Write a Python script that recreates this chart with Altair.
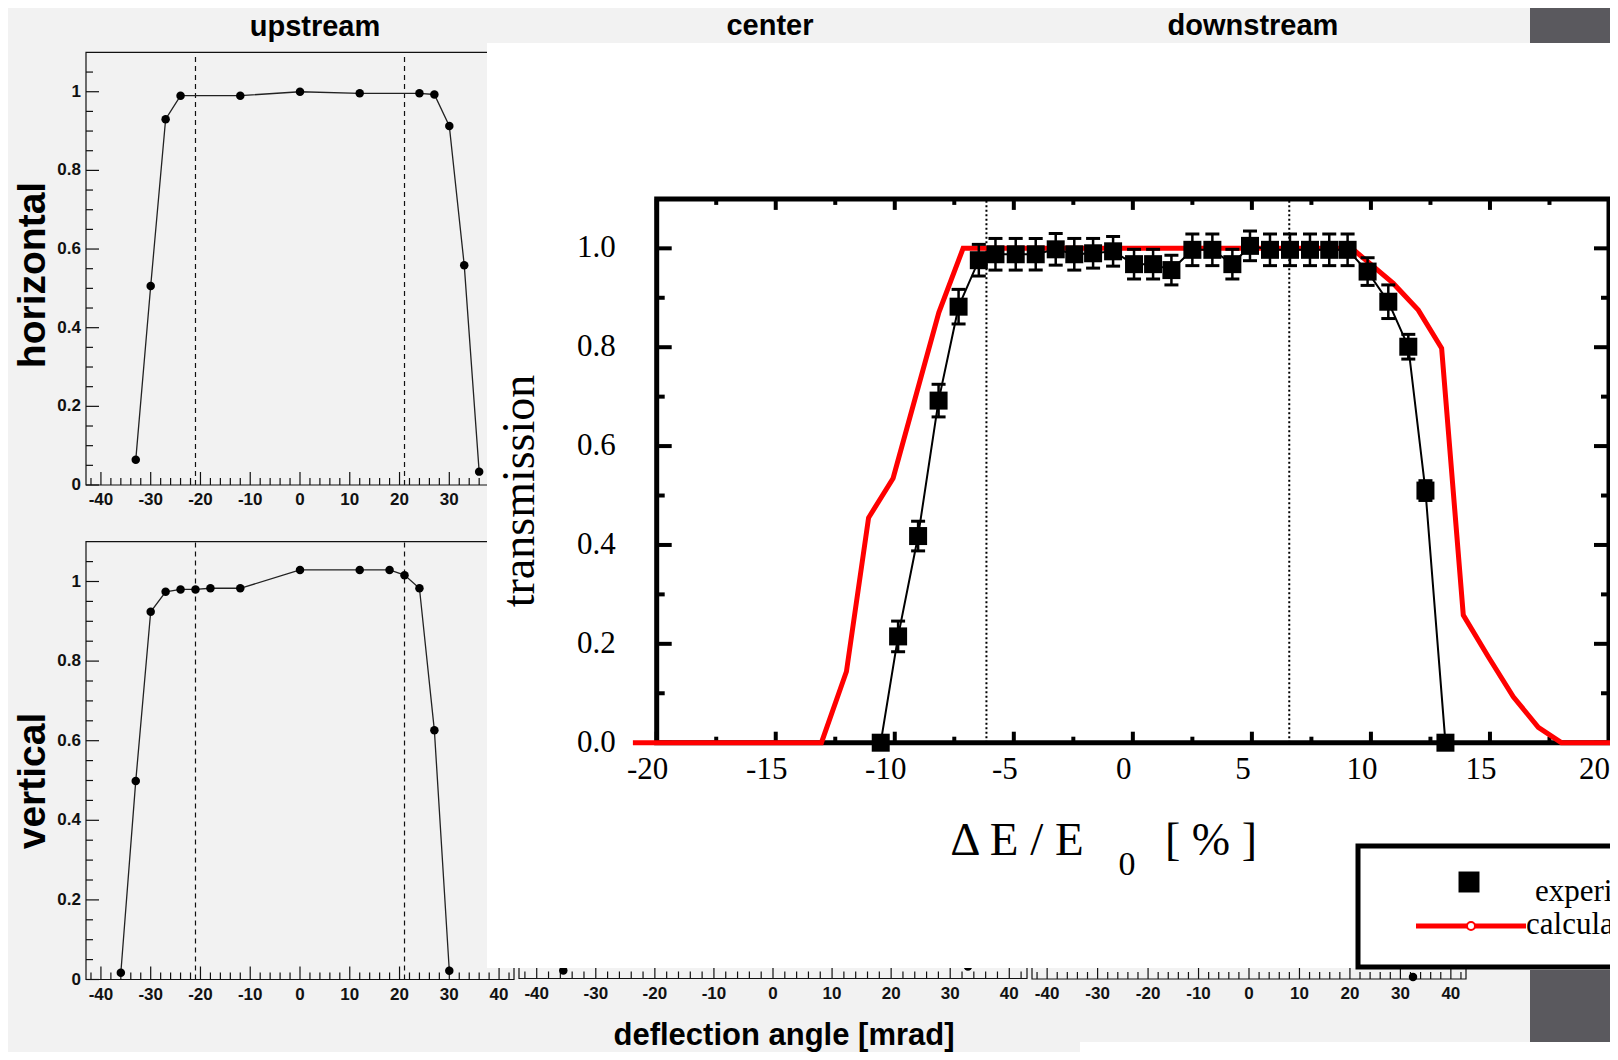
import altair as alt
import pandas as pd

# ---------------- data ----------------
# background ROOT panels: deflection angle [mrad] vs transmission
UP_H_X = [-33, -30, -27, -24, -12, 0, 12, 24, 27, 30, 33, 36]
UP_H_Y = [0.064, 0.506, 0.930, 0.990, 0.990, 1.000, 0.996, 0.996, 0.993, 0.913, 0.559, 0.034]
UP_V_X = [-36, -33, -30, -27, -24, -21, -18, -12, 0, 12, 18, 21, 24, 27, 30]
UP_V_Y = [0.017, 0.499, 0.924, 0.974, 0.980, 0.980, 0.983, 0.983, 1.029, 1.029, 1.029, 1.016, 0.983, 0.626, 0.022]
CENTER_V_X = [-35.5, 33.0]
CENTER_V_Y = [0.02, 0.03]
DOWN_V_X = [32.5]
DOWN_V_Y = [0.005]
UP_EDGES = [-21, 21]

ROOT_X_MAJOR = [-40, -30, -20, -10, 0, 10, 20, 30, 40]
ROOT_X_LABELS = ["-40", "-30", "-20", "-10", "0", "10", "20", "30", "40"]
ROOT_X_MINOR = [-42, -38, -36, -34, -32, -28, -26, -24, -22, -18, -16, -14, -12, -8, -6, -4, -2,
                2, 4, 6, 8, 12, 14, 16, 18, 22, 24, 26, 28, 32, 34, 36, 38, 42]
ROOT_Y_MAJOR = [0, 0.2, 0.4, 0.6, 0.8, 1.0]
ROOT_Y_LABELS = ["0", "0.2", "0.4", "0.6", "0.8", "1"]
ROOT_Y_MINOR = [0.05, 0.1, 0.15, 0.25, 0.3, 0.35, 0.45, 0.5, 0.55, 0.65, 0.7, 0.75, 0.85, 0.9, 0.95, 1.05]

# main figure: transmission vs dE/E0 [%]
EXP_X = [-10.59, -9.86, -9.02, -8.16, -7.32, -6.47, -5.77, -4.92, -4.08, -3.24,
         -2.46, -1.67, -0.83, 0.05, 0.85, 1.62, 2.50, 3.34, 4.18, 4.92,
         5.76, 6.60, 7.44, 8.25, 9.02, 9.86, 10.73, 11.57, 12.29, 13.13]
EXP_Y = [0.0, 0.215, 0.418, 0.692, 0.882, 0.976, 0.988, 0.988, 0.988, 0.998,
         0.988, 0.990, 0.994, 0.968, 0.968, 0.956, 0.997, 0.997, 0.968, 1.005,
         0.997, 0.997, 0.997, 0.997, 0.997, 0.953, 0.892, 0.801, 0.510, 0.0]
EXP_ERR = [0.0, 0.031, 0.030, 0.033, 0.035, 0.032, 0.032, 0.032, 0.032, 0.032,
           0.032, 0.030, 0.030, 0.030, 0.030, 0.030, 0.032, 0.032, 0.030, 0.030,
           0.032, 0.032, 0.032, 0.032, 0.032, 0.028, 0.034, 0.025, 0.020, 0.0]
CALC_X = [-21.0, -13.08, -12.03, -11.10, -10.07, -8.15, -7.13, 9.20, 10.94, 11.99,
          12.97, 13.88, 14.93, 15.98, 17.03, 18.00, 21.50]
CALC_Y = [0.0, 0.0, 0.144, 0.455, 0.535, 0.870, 1.0, 1.0, 0.929, 0.875,
          0.798, 0.258, 0.174, 0.093, 0.031, 0.0, 0.0]
SLIT_EDGES = [-6.15, 6.57]

MAIN_X_MAJOR = [-20, -15, -10, -5, 0, 5, 10, 15]
MAIN_X_LABELS = ["-20", "-15", "-10", "-5", "0", "5", "10", "15"]
MAIN_X_LAST = [20]
MAIN_X_LAST_LABEL = ["20"]
MAIN_X_MINOR = [-17.5, -12.5, -7.5, -2.5, 2.5, 7.5, 12.5, 17.5]
MAIN_Y_MAJOR = [0.0, 0.2, 0.4, 0.6, 0.8, 1.0]
MAIN_Y_LABELS = ["0.0", "0.2", "0.4", "0.6", "0.8", "1.0"]
MAIN_Y_MINOR = [0.1, 0.3, 0.5, 0.7, 0.9]

# ---------------- layout ----------------
OFF = 8.0  # page margin


def pg(a):
    return a - OFF


# domain x, pixel range x (page coords), domain y, pixel range y
GEOM = {
    "TL": ([-43, 43], [86, 514], [0, 1.1], [485, 52.4]),
    "BL": ([-43, 43], [86, 514], [0, 1.1], [979.5, 541.7]),
    "CB": ([-43, 43], [519, 1027], [0, 1.1], [978.5, 540.7]),
    "DB": ([-43, 43], [1032, 1466], [0, 1.1], [979, 541]),
    "M": ([-20, 20], [656.7, 1609], [0, 1.1], [742.7, 198.9]),
}


def xscale(p):
    d, r, _, _ = GEOM[p]
    return alt.Scale(domain=d, range=[pg(r[0]), pg(r[1])], nice=False, zero=False)


def yscale(p):
    _, _, d, r = GEOM[p]
    return alt.Scale(domain=d, range=[pg(r[0]), pg(r[1])], nice=False, zero=False)


def X(p, f=None, d=None):
    if f is not None:
        return alt.X(f, type="quantitative", scale=xscale(p), axis=None)
    return alt.XDatum(d, type="quantitative", scale=xscale(p), axis=None)


def Y(p, f=None, d=None):
    if f is not None:
        return alt.Y(f, type="quantitative", scale=yscale(p), axis=None)
    return alt.YDatum(d, type="quantitative", scale=yscale(p), axis=None)


ONE = pd.DataFrame({"k": [0]})
SANS = "Liberation Sans"
SERIF = "Liberation Serif"
INK = "#111111"
BG = "#f2f2f2"
DARK = "#5a595e"

layers = []


def root_axes(p, ylab=True):
    xd, _, yd, _ = GEOM[p]
    L = [alt.Chart(ONE).mark_rect(fillOpacity=0, stroke=INK, strokeWidth=1.2).encode(
        x=X(p, d=xd[0]), x2=alt.X2Datum(xd[1]), y=Y(p, d=yd[0]), y2=alt.Y2Datum(yd[1]))]
    for vals, ln in ((ROOT_X_MAJOR, 13), (ROOT_X_MINOR, 7)):
        L.append(alt.Chart(pd.DataFrame({"v": vals})).mark_tick(
            orient="vertical", size=ln, thickness=1.2, yOffset=-ln / 2, color=INK, opacity=1
        ).encode(x=X(p, "v"), y=Y(p, d=0)))
    L.append(alt.Chart(pd.DataFrame({"v": ROOT_X_MAJOR, "t": ROOT_X_LABELS})).mark_text(
        dy=15, fontSize=17, font=SANS, fontWeight="bold", color=INK
    ).encode(x=X(p, "v"), y=Y(p, d=0), text="t:N"))
    if ylab:
        for vals, ln in ((ROOT_Y_MAJOR, 13), (ROOT_Y_MINOR, 7)):
            L.append(alt.Chart(pd.DataFrame({"v": vals})).mark_tick(
                orient="horizontal", size=ln, thickness=1.2, xOffset=ln / 2, color=INK, opacity=1
            ).encode(x=X(p, d=xd[0]), y=Y(p, "v")))
        L.append(alt.Chart(pd.DataFrame({"v": ROOT_Y_MAJOR, "t": ROOT_Y_LABELS})).mark_text(
            align="right", dx=-5, fontSize=17, font=SANS, fontWeight="bold", color=INK
        ).encode(x=X(p, d=xd[0]), y=Y(p, "v"), text="t:N"))
        L.append(alt.Chart(pd.DataFrame({"v": UP_EDGES})).mark_rule(
            strokeDash=[5, 4], strokeWidth=1.2, color=INK
        ).encode(x=X(p, "v"), y=Y(p, d=0), y2=alt.Y2Datum(1.1)))
    return L


def root_series(p, xv, yv, line=True):
    d = pd.DataFrame({"x": xv, "y": yv})
    out = []
    if line:
        out.append(alt.Chart(d).mark_line(color="#222222", strokeWidth=1.3).encode(
            x=X(p, "x"), y=Y(p, "y")))
    out.append(alt.Chart(d).mark_circle(size=72, color="#000000", opacity=1).encode(
        x=X(p, "x"), y=Y(p, "y")))
    return out


layers += root_axes("TL") + root_series("TL", UP_H_X, UP_H_Y)
layers += root_axes("BL") + root_series("BL", UP_V_X, UP_V_Y)
layers += root_axes("CB", ylab=False) + root_series("CB", CENTER_V_X, CENTER_V_Y, line=False)
layers += root_axes("DB", ylab=False) + root_series("DB", DOWN_V_X, DOWN_V_Y, line=False)


def block(x0, x1, y0, y1, color):
    return alt.Chart(ONE).mark_rect(color=color, opacity=1).encode(
        x=alt.value(pg(x0)), x2=alt.value(pg(x1)), y=alt.value(pg(y0)), y2=alt.value(pg(y1)))


layers += [
    block(487, 1630, 43, 968, "#ffffff"),
    block(1530, 1630, 0, 43, DARK),
    block(1530, 1630, 970, 1042, DARK),
    block(1080, 1630, 1042, 1070, "#ffffff"),
]


def label(text, x, y, size, font=SANS, weight="bold", angle=0, baseline="alphabetic", align="center"):
    kw = dict(text=text, fontSize=size, font=font, fontWeight=weight, baseline=baseline,
              align=align, color="#000000")
    if angle:
        kw["angle"] = angle
    return alt.Chart(ONE).mark_text(**kw).encode(x=alt.value(pg(x)), y=alt.value(pg(y)))


layers += [
    label("upstream", 315, 35.5, 29),
    label("center", 770, 35, 29),
    label("downstream", 1253, 34.5, 29),
    label("horizontal", 45, 275, 39, angle=270),
    label("vertical", 45, 781, 39, angle=270),
    label("deflection angle [mrad]", 784, 1045, 31),
]

# ---------------- main figure ----------------
p = "M"
layers.append(alt.Chart(ONE).mark_rect(fillOpacity=0, stroke="#000000", strokeWidth=5).encode(
    x=X(p, d=-20), x2=alt.X2Datum(20), y=Y(p, d=0), y2=alt.Y2Datum(1.1)))

for vals, ln in ((MAIN_X_MAJOR + MAIN_X_LAST, 11), (MAIN_X_MINOR, 6)):
    dfv = pd.DataFrame({"v": vals})
    layers.append(alt.Chart(dfv).mark_tick(orient="vertical", size=ln, thickness=4, yOffset=-ln / 2,
                                           color="#000000", opacity=1).encode(x=X(p, "v"), y=Y(p, d=0)))
    layers.append(alt.Chart(dfv).mark_tick(orient="vertical", size=ln, thickness=4, yOffset=ln / 2,
                                           color="#000000", opacity=1).encode(x=X(p, "v"), y=Y(p, d=1.1)))
for vals, ln in ((MAIN_Y_MAJOR, 15), (MAIN_Y_MINOR, 8)):
    dfv = pd.DataFrame({"v": vals})
    layers.append(alt.Chart(dfv).mark_tick(orient="horizontal", size=ln, thickness=4, xOffset=ln / 2,
                                           color="#000000", opacity=1).encode(x=X(p, d=-20), y=Y(p, "v")))
    layers.append(alt.Chart(dfv).mark_tick(orient="horizontal", size=ln, thickness=4, xOffset=-ln / 2,
                                           color="#000000", opacity=1).encode(x=X(p, d=20), y=Y(p, "v")))

layers.append(alt.Chart(pd.DataFrame({"v": MAIN_X_MAJOR, "t": MAIN_X_LABELS})).mark_text(
    dy=27, dx=-9, fontSize=31, font=SERIF, color="#000000"
).encode(x=X(p, "v"), y=Y(p, d=0), text="t:N"))
layers.append(alt.Chart(pd.DataFrame({"v": MAIN_X_LAST, "t": MAIN_X_LAST_LABEL})).mark_text(
    dy=27, dx=1, align="right", fontSize=31, font=SERIF, color="#000000"
).encode(x=X(p, "v"), y=Y(p, d=0), text="t:N"))
layers.append(alt.Chart(pd.DataFrame({"v": MAIN_Y_MAJOR, "t": MAIN_Y_LABELS})).mark_text(
    align="right", dx=-41, fontSize=31, font=SERIF, color="#000000"
).encode(x=X(p, d=-20), y=Y(p, "v"), text="t:N"))

layers.append(alt.Chart(pd.DataFrame({"v": SLIT_EDGES})).mark_rule(
    strokeDash=[2, 2.5], strokeWidth=2, color="#000000"
).encode(x=X(p, "v"), y=Y(p, d=0), y2=alt.Y2Datum(1.1)))

calc = pd.DataFrame({"x": CALC_X, "y": CALC_Y})
layers.append(alt.Chart(calc).mark_line(color="#ff0000", strokeWidth=5).encode(x=X(p, "x"), y=Y(p, "y")))

exp = pd.DataFrame({"x": EXP_X, "y": EXP_Y, "e": EXP_ERR})
exp["lo"] = exp["y"] - exp["e"]
exp["hi"] = exp["y"] + exp["e"]
exp_err = exp[exp["e"] > 0]
layers.append(alt.Chart(exp).mark_line(color="#000000", strokeWidth=2).encode(x=X(p, "x"), y=Y(p, "y")))
layers.append(alt.Chart(exp_err).mark_rule(color="#000000", strokeWidth=2.5).encode(
    x=X(p, "x"), y=Y(p, "lo"), y2=alt.Y2("hi")))
for col in ("lo", "hi"):
    layers.append(alt.Chart(exp_err).mark_tick(orient="horizontal", size=14, thickness=3,
                                               color="#000000", opacity=1).encode(x=X(p, "x"), y=Y(p, col)))
layers.append(alt.Chart(exp).mark_square(size=324, color="#000000", opacity=1).encode(
    x=X(p, "x"), y=Y(p, "y")))

# axis titles of the main figure
layers += [
    label("transmission", 534, 491, 46, font=SERIF, weight="normal", angle=270),
    label("Δ  E / E", 1017, 855, 47, font=SERIF, weight="normal"),
    label("0", 1127, 875, 34, font=SERIF, weight="normal"),
    label("[ % ]", 1211, 855, 46, font=SERIF, weight="normal"),
]

# legend (cut off by the right edge, as in the reference)
layers.append(alt.Chart(ONE).mark_rect(fill="#ffffff", stroke="#000000", strokeWidth=5).encode(
    x=alt.value(pg(1358)), x2=alt.value(pg(1640)), y=alt.value(pg(846)), y2=alt.value(pg(967))))
layers.append(alt.Chart(ONE).mark_square(size=440, color="#000000", opacity=1).encode(
    x=alt.value(pg(1469)), y=alt.value(pg(882))))
layers.append(alt.Chart(ONE).mark_rule(color="#ff0000", strokeWidth=5).encode(
    x=alt.value(pg(1416)), x2=alt.value(pg(1526)), y=alt.value(pg(926))))
layers.append(alt.Chart(ONE).mark_point(size=64, shape="circle", filled=True, fill="#ffffff",
                                        stroke="#ff0000", strokeWidth=2, opacity=1).encode(
    x=alt.value(pg(1471)), y=alt.value(pg(926))))
layers += [
    label("experiment", 1535, 901, 31, font=SERIF, weight="normal", align="left"),
    label("calculation", 1526, 934, 31, font=SERIF, weight="normal", align="left"),
]

chart = alt.layer(*layers).resolve_scale(x="independent", y="independent").properties(
    width=1602, height=1044, padding=0,
    autosize=alt.AutoSizeParams(type="none"),
    background=BG,
).configure_view(stroke=None)

chart.save("out.html", embed_options={"renderer": "svg", "actions": False})
